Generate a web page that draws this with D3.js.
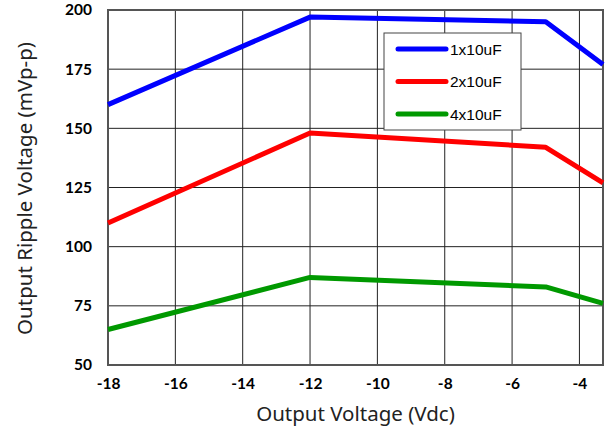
<!DOCTYPE html>
<html>
<head>
<meta charset="utf-8">
<script src="https://cdn.jsdelivr.net/npm/d3@7"></script>
<style>
  body { margin: 0; background: #fff; }
  svg { display: block; }
</style>
</head>
<body>
<svg id="chart" width="606" height="432"></svg>
<script>
var voltages = [-18, -12, -5, -3.3];
var series1 = [160, 197, 195, 177];   // 1x10uF
var series2 = [110, 148, 142, 127];   // 2x10uF
var series3 = [65, 87, 83, 76];       // 4x10uF
var seriesNames = ["1x10uF", "2x10uF", "4x10uF"];
var seriesColors = ["#0000ff", "#ff0000", "#009900"];
var xTicks = [-18, -16, -14, -12, -10, -8, -6, -4];
var yTicks = [50, 75, 100, 125, 150, 175, 200];

var svg = d3.select("#chart"),
    margin = {top: 10, right: 3, bottom: 67, left: 108},
    width = +svg.attr("width") - margin.left - margin.right,
    height = +svg.attr("height") - margin.top - margin.bottom,
    g = svg.append("g").attr("transform", "translate(" + margin.left + "," + margin.top + ")");

var x = d3.scaleLinear().domain([-18, -3.3]).range([0, width]);
var y = d3.scaleLinear().domain([50, 200]).range([height, 0]);

// grid
g.append("g").selectAll("line").data(xTicks.slice(1)).enter().append("line")
  .attr("x1", d => x(d)).attr("x2", d => x(d)).attr("y1", 0).attr("y2", height)
  .attr("stroke", "#222").attr("stroke-width", 1);
g.append("g").selectAll("line").data(yTicks.slice(1, -1)).enter().append("line")
  .attr("x1", 0).attr("x2", width).attr("y1", d => y(d)).attr("y2", d => y(d))
  .attr("stroke", "#222").attr("stroke-width", 1);

// frame
g.append("rect").attr("x", 0).attr("y", 0).attr("width", width).attr("height", height)
  .attr("fill", "none").attr("stroke", "#555").attr("stroke-width", 2);

// axes (plain hyphen for negatives, like the original)
var xAxis = g.append("g").attr("transform", "translate(0," + height + ")")
  .call(d3.axisBottom(x).tickValues(xTicks).tickFormat(d => String(d)).tickSize(0).tickPadding(13));
var yAxis = g.append("g")
  .call(d3.axisLeft(y).tickValues(yTicks).tickFormat(d => String(d)).tickSize(0).tickPadding(16));
[xAxis, yAxis].forEach(function(a) {
  a.select(".domain").remove();
  a.selectAll("text").attr("font-family", "Lato, 'DejaVu Sans', sans-serif")
    .attr("font-weight", "bold").attr("font-size", 15.5).attr("fill", "#000");
});

// lines
var all = [series1, series2, series3];
var line = d3.line().x((d, i) => x(voltages[i])).y(d => y(d));
all.forEach(function(s, i) {
  g.append("path").datum(s).attr("d", line).attr("fill", "none")
    .attr("stroke", seriesColors[i]).attr("stroke-width", 5).attr("stroke-linejoin", "round");
});

// legend
var lg = svg.append("g").attr("transform", "translate(384,33)");
lg.append("rect").attr("width", 137).attr("height", 97)
  .attr("fill", "#fff").attr("stroke", "#444").attr("stroke-width", 1);
seriesNames.forEach(function(n, i) {
  var yy = 16 + i * 32.5;
  lg.append("line").attr("x1", 14).attr("x2", 62).attr("y1", yy).attr("y2", yy)
    .attr("stroke", seriesColors[i]).attr("stroke-width", 5).attr("stroke-linecap", "round");
  lg.append("text").attr("x", 66).attr("y", yy + 5.5).text(n)
    .attr("font-family", "'Liberation Sans', Arial, sans-serif").attr("font-size", 15.5);
});

// axis titles
svg.append("text").attr("x", margin.left + width / 2).attr("y", 421)
  .attr("text-anchor", "middle").attr("font-family", "'Noto Sans', sans-serif")
  .attr("font-size", 20.5).attr("fill", "#222").text("Output Voltage (Vdc)");
svg.append("text").attr("transform", "translate(32," + (margin.top + height / 2 + 1) + ") rotate(-90)")
  .attr("text-anchor", "middle").attr("font-family", "'Noto Sans', sans-serif")
  .attr("font-size", 20.5).attr("fill", "#222").text("Output Ripple Voltage (mVp-p)");
</script>
</body>
</html>
